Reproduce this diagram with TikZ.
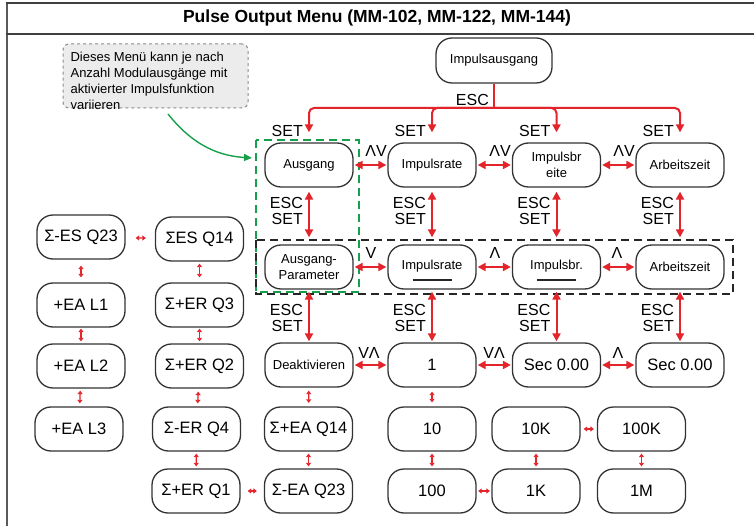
\documentclass[tikz,border=0pt]{standalone}
\usepackage{fontspec}
\setmainfont{Liberation Sans}
\usetikzlibrary{arrows.meta}
\definecolor{menured}{HTML}{E3242B}
\definecolor{menugreen}{HTML}{17A04B}
\definecolor{framegray}{HTML}{5A5A5A}
\definecolor{notefill}{HTML}{ECECEC}
\tikzset{
  menubox/.style={draw=black!80, line width=1.3pt, rounded corners=16pt,
    minimum width=88pt, minimum height=44pt, inner sep=1pt, align=center,
    font=\fontsize{13}{15.5}\selectfont},
  bigtext/.style={font=\fontsize{16.5}{18}\selectfont},
  keylabel/.style={font=\fontsize{16}{16}\selectfont, inner sep=0pt},
  bigarr/.style={draw=menured, line width=2pt, {Triangle[length=8pt,width=8pt]}-{Triangle[length=8pt,width=8pt]}},
  onearr/.style={draw=menured, line width=2pt, rounded corners=5pt, -{Triangle[length=8pt,width=8pt]}},
  smallarr/.style={draw=menured, line width=1.3pt, {Triangle[length=3.5pt,width=5pt]}-{Triangle[length=3.5pt,width=5pt]}},
  dashbox/.style={line width=1.7pt, dash pattern=on 8pt off 5pt},
  underbar/.style={line width=1.3pt, black!85}
}
\begin{document}
\begin{tikzpicture}[x=1pt, y=-1pt]
\useasboundingbox (0,0) rectangle (754,526);

% frame and title bar
\draw[framegray, line width=2.5pt] (7,2) -- (7,526);
\draw[black!75, line width=1.5pt] (6,3) -- (754,3);
\draw[black!75, line width=1.5pt] (6,34) -- (754,34);
\node[font=\bfseries\fontsize{17.5}{17.5}\selectfont] (title) at (377,18) {Pulse Output Menu (MM-102, MM-122, MM-144)};

% note
\node[draw=black!45, dashed, fill=notefill, rounded corners=6pt, line width=1pt,
      minimum width=185pt, minimum height=64pt] (note) at (155.5,76) {};
\node[align=left, inner sep=0pt, font=\fontsize{13}{15.8}\selectfont] (notetext) at (149,81)
  {Dieses Menü kann je nach\\Anzahl Modulausgänge mit\\aktivierter Impulsfunktion\\variieren};

% grouping frames
\draw[menugreen, dashbox] (256,140) rectangle (359,292);
\draw[black!85, dashbox] (256,240) rectangle (733,294);

% top
\node[menubox, minimum width=116pt, minimum height=45pt] (top) at (494,60.5) {Impulsausgang};

% row 1
\node[menubox] (a1) at (309,165) {Ausgang};
\node[menubox] (b1) at (432,165) {Impulsrate};
\node[menubox] (c1) at (556.5,165) {Impulsbr\\eite};
\node[menubox] (d1) at (680,165) {Arbeitszeit};

% row 2
\node[menubox] (a2) at (309,267) {Ausgang-\\Parameter};
\node[menubox] (b2) at (432,267) {\raisebox{-3pt}[0pt][0pt]{Impulsrate}};
\node[menubox] (c2) at (556.5,267) {\raisebox{-3pt}[0pt][0pt]{Impulsbr.}};
\node[menubox] (d2) at (680,267) {Arbeitszeit};
\draw[underbar] ([shift={(-19.5,13)}]b2.center) -- ++(39,0);
\draw[underbar] ([shift={(-19.5,13)}]c2.center) -- ++(39,0);

% row 3
\node[menubox] (a3) at (309,365) {Deaktivieren};
\node[menubox, bigtext] (b3) at (432,365) {1};
\node[menubox, bigtext] (c3) at (556.5,365) {Sec 0.00};
\node[menubox, bigtext] (d3) at (680,365) {Sec 0.00};

% rows 4 and 5
\node[menubox, bigtext] (a4) at (308.5,429) {Σ+EA Q14};
\node[menubox, bigtext] (b4) at (432,429) {10};
\node[menubox, bigtext] (c4) at (536,429) {10K};
\node[menubox, bigtext] (d4) at (641.5,429) {100K};
\node[menubox, bigtext] (a5) at (308.5,491) {Σ-EA Q23};
\node[menubox, bigtext] (b5) at (432,491) {100};
\node[menubox, bigtext] (c5) at (536,491) {1K};
\node[menubox, bigtext] (d5) at (641.5,491) {1M};

% left columns
\node[menubox, bigtext] (l1) at (81,237) {Σ-ES Q23};
\node[menubox, bigtext] (l2) at (81,305) {+EA L1};
\node[menubox, bigtext] (l3) at (81,366) {+EA L2};
\node[menubox, bigtext] (l4) at (79,429) {+EA L3};
\node[menubox, bigtext] (m1) at (199.5,239) {ΣES Q14};
\node[menubox, bigtext] (m2) at (199.5,305) {Σ+ER Q3};
\node[menubox, bigtext] (m3) at (199.5,366) {Σ+ER Q2};
\node[menubox, bigtext] (m4) at (196.5,429) {Σ-ER Q4};
\node[menubox, bigtext] (m5) at (196,491) {Σ+ER Q1};

% note pointer
\coordinate (nstart) at (168,114);
\coordinate (gtip) at (252,158);
\draw[menugreen, line width=1.4pt, -{Triangle[length=8pt,width=7pt]}]
  (nstart) .. controls (195,148) and (222,156) .. (gtip);

% ESC branch from the top node
\coordinate (j) at (494,108);
\draw[menured, line width=2pt] (top.south) -- (j);
\foreach \n in {a1,b1,c1,d1}
  \draw[onearr, shorten >=10pt] (j) -| (\n.north);
\node[keylabel, anchor=east] (escTop) at (489,100) {ESC};
\foreach \n/\x in {a1/309,b1/432,c1/556.5,d1/680}
  \node[keylabel, anchor=east] at (\x-6,131) {SET};

% row 1 horizontals
\draw[bigarr, shorten <=1pt, shorten >=1pt] (a1) -- (b1);
\draw[bigarr, shorten <=1pt, shorten >=1pt] (b1) -- (c1);
\draw[bigarr, shorten <=1pt, shorten >=1pt] (c1) -- (d1);
\node[keylabel] at (376,151) {ΛV};
\node[keylabel] at (500,151) {ΛV};
\node[keylabel] at (624,151) {ΛV};

% row 1 to row 2
\foreach \u/\d/\x in {a1/a2/309,b1/b2/432,c1/c2/556.5,d1/d2/680}{
  \draw[bigarr, shorten <=4pt, shorten >=7pt] (\u) -- (\d);
  \node[keylabel, anchor=east] at (\x-6,202.5) {ESC};
  \node[keylabel, anchor=east] at (\x-6,219) {SET};
}

% row 2 horizontals
\draw[bigarr, shorten <=1pt, shorten >=1pt] (a2) -- (b2);
\draw[bigarr, shorten <=1pt, shorten >=1pt] (b2) -- (c2);
\draw[bigarr, shorten <=1pt, shorten >=1pt] (c2) -- (d2);
\node[keylabel] at (371,253) {V};
\node[keylabel] at (495,253) {Λ};
\node[keylabel] at (617,253) {Λ};

% row 2 to row 3
\foreach \u/\d/\x in {a2/a3/309,b2/b3/432,c2/c3/556.5,d2/d3/680}{
  \draw[bigarr, shorten <=2pt, shorten >=1pt] (\u) -- (\d);
  \node[keylabel, anchor=east] at (\x-6,310) {ESC};
  \node[keylabel, anchor=east] at (\x-6,326) {SET};
}

% row 3 horizontals
\draw[bigarr, shorten <=1pt, shorten >=1pt] (a3) -- (b3);
\draw[bigarr, shorten <=1pt, shorten >=1pt] (b3) -- (c3);
\draw[bigarr, shorten <=1pt, shorten >=1pt] (c3) -- (d3);
\node[keylabel] at (369,353) {VΛ};
\node[keylabel] at (494,353) {VΛ};
\node[keylabel] at (618,353) {Λ};

% value chains
\draw[smallarr, shorten <=3pt, shorten >=3.5pt] (a3) -- (a4);
\draw[smallarr, shorten <=2pt, shorten >=2pt] (a4) -- (a5);
\draw[smallarr, shorten <=4pt, shorten >=4pt] (b3) -- (b4);
\draw[smallarr, shorten <=2pt, shorten >=2pt] (b4) -- (b5);
\draw[smallarr, shorten <=1.5pt, shorten >=1.5pt] (b5) -- (c5);
\draw[smallarr, shorten <=2pt, shorten >=2pt] (c5) -- (c4);
\draw[smallarr, shorten <=3pt, shorten >=3pt] (c4) -- (d4);
\draw[smallarr, shorten <=2pt, shorten >=2pt] (d4) -- (d5);

% left columns
\draw[smallarr, shorten <=6pt, shorten >=5pt] (l1) -- (l2);
\draw[smallarr, shorten <=1pt, shorten >=2pt] (l2) -- (l3);
\draw[smallarr, shorten <=2pt, shorten >=3pt] (l3) -- (l4);
\draw[smallarr, shorten <=10pt, shorten >=9pt] (l1) -- (m1);
\draw[smallarr, shorten <=2pt, shorten >=5pt] (m1) -- (m2);
\draw[smallarr, shorten <=1pt, shorten >=2pt] (m2) -- (m3);
\draw[smallarr, shorten <=3pt, shorten >=3pt] (m3) -- (m4);
\draw[smallarr, shorten <=2pt, shorten >=2pt] (m4) -- (m5);
\draw[smallarr, shorten <=7pt, shorten >=7pt] (m5) -- (a5);
\end{tikzpicture}
\end{document}
